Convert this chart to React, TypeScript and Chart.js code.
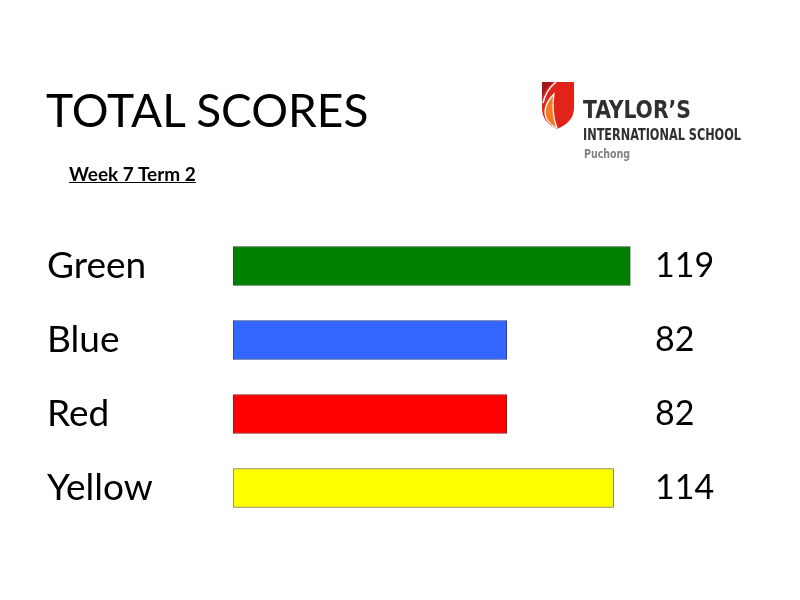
import React, { useEffect, useRef } from "react";
import { Chart, registerables } from "chart.js";

Chart.register(...registerables);

// House teams and their total scores
const teams = ["Green", "Blue", "Red", "Yellow"];
const scores = [119, 82, 82, 114];
const fillColors = ["#008000", "#3366ff", "#ff0000", "#ffff00"];
const edgeColors = ["#1e4d1e", "#243f8a", "#8a1a1a", "#7a7228"];

const LABEL_FONT = "Lato, 'Open Sans', sans-serif";

// Draws team names on the left and score figures in a column on the right
const sideLabels = {
  id: "sideLabels",
  afterDatasetsDraw(chart: Chart) {
    const { ctx } = chart;
    const yScale = chart.scales.y;
    ctx.save();
    ctx.fillStyle = "#000";
    ctx.textBaseline = "alphabetic";
    ctx.textAlign = "left";
    teams.forEach((name, i) => {
      const cy = yScale.getPixelForValue(i);
      ctx.font = `37px ${LABEL_FONT}`;
      ctx.fillText(name, 47, cy + 12);
      ctx.font = `34px ${LABEL_FONT}`;
      ctx.fillText(String(scores[i]), 655, cy + 11);
    });
    ctx.restore();
  },
};

function Logo() {
  return (
    <svg
      width={230}
      height={95}
      viewBox="530 75 230 95"
      style={{ position: "absolute", left: 530, top: 75 }}
    >
      <path d="M542,82 H574 V108 Q574,122 557,129 Q542,122 542,108 Z" fill="#e2231a" />
      <path d="M542,82 H553 Q546,88 542,97 Z" fill="#a8161c" />
      <path d="M556,82 Q546,90 543,103" fill="none" stroke="#fff" strokeWidth={1.6} />
      <path
        d="M554,94 Q542,106 546,118 Q550,125 557,128 Q551,112 554,94 Z"
        fill="#f47b20"
        stroke="#fff"
        strokeWidth={1.2}
      />
      <text
        x={583}
        y={118}
        fontFamily="'Liberation Sans Narrow', 'DejaVu Sans Condensed', Roboto, sans-serif"
        fontWeight="bold"
        fontSize={25}
        fill="#2f2f2f"
        textLength={108}
        lengthAdjust="spacingAndGlyphs"
      >
        TAYLOR’S
      </text>
      <text
        x={583}
        y={140}
        fontFamily="'Liberation Sans Narrow', 'DejaVu Sans Condensed', Roboto, sans-serif"
        fontWeight="bold"
        fontSize={15}
        fill="#2f2f2f"
        textLength={158}
        lengthAdjust="spacingAndGlyphs"
      >
        INTERNATIONAL SCHOOL
      </text>
      <text
        x={584}
        y={158}
        fontFamily="'Liberation Sans Narrow', 'DejaVu Sans Condensed', Roboto, sans-serif"
        fontWeight="bold"
        fontSize={12}
        fill="#808080"
        textLength={46}
        lengthAdjust="spacingAndGlyphs"
      >
        Puchong
      </text>
    </svg>
  );
}

export default function App() {
  const canvasRef = useRef<HTMLCanvasElement | null>(null);

  useEffect(() => {
    if (!canvasRef.current) return;
    const chart = new Chart(canvasRef.current, {
      type: "bar",
      data: {
        labels: teams,
        datasets: [
          {
            data: scores,
            backgroundColor: fillColors,
            borderColor: edgeColors,
            borderWidth: 1,
            borderSkipped: false,
            barThickness: 39,
          },
        ],
      },
      options: {
        indexAxis: "y",
        responsive: false,
        animation: false,
        layout: { padding: { left: 233, right: 133, top: 229, bottom: 75 } },
        scales: {
          x: { display: false, min: 0, max: 130 },
          y: { display: false },
        },
        plugins: {
          legend: { display: false },
          tooltip: { enabled: false },
        },
      },
      plugins: [sideLabels],
    });
    return () => chart.destroy();
  }, []);

  return (
    <div
      style={{
        position: "absolute",
        left: 0,
        top: 0,
        width: 800,
        height: 600,
        background: "#fff",
        overflow: "hidden",
      }}
    >
      <canvas ref={canvasRef} width={800} height={600} style={{ position: "absolute", left: 0, top: 0 }} />
      <div
        style={{
          position: "absolute",
          left: 46,
          top: 82,
          fontFamily: LABEL_FONT,
          fontSize: 46,
          lineHeight: 1.2,
          color: "#000",
          whiteSpace: "nowrap",
        }}
      >
        TOTAL SCORES
      </div>
      <div
        style={{
          position: "absolute",
          left: 69,
          top: 163,
          fontFamily: LABEL_FONT,
          fontSize: 19,
          fontWeight: "bold",
          lineHeight: 1.2,
          color: "#000",
          textDecoration: "underline",
          whiteSpace: "nowrap",
        }}
      >
        Week 7 Term 2
      </div>
      <Logo />
    </div>
  );
}
